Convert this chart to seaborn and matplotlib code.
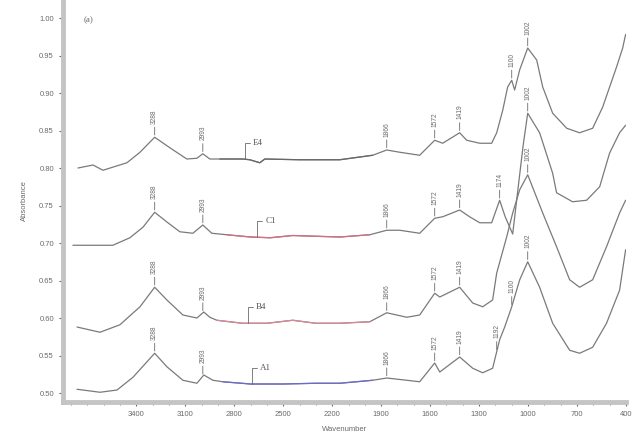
import numpy as np
import pandas as pd
import matplotlib
matplotlib.use("Agg")
import matplotlib.pyplot as plt
from matplotlib.ticker import MultipleLocator
import seaborn as sns

# FTIR spectra, stacked (wavenumber in cm-1, absorbance)
samples = ["E4", "C1", "B4", "A1"]

wn_E4 = [3758, 3666, 3605, 3458, 3378, 3288, 3195, 3091, 3029, 2993, 2950, 2889,
         2748, 2705, 2644, 2613, 2400, 2154, 1952, 1866, 1786, 1664, 1572, 1523,
         1419, 1376, 1296, 1223, 1192, 1155, 1125, 1100, 1082, 1051, 1002, 947,
         910, 849, 763, 684, 604, 543, 500, 457, 420, 402]
ab_E4 = [0.800, 0.804, 0.797, 0.807, 0.821, 0.841, 0.827, 0.812, 0.813, 0.819, 0.812, 0.812,
         0.812, 0.811, 0.807, 0.812, 0.811, 0.811, 0.817, 0.824, 0.821, 0.817, 0.837, 0.833,
         0.847, 0.837, 0.833, 0.833, 0.847, 0.877, 0.908, 0.917, 0.904, 0.931, 0.960, 0.944,
         0.908, 0.873, 0.853, 0.847, 0.853, 0.881, 0.908, 0.935, 0.960, 0.978]

wn_C1 = [3789, 3544, 3440, 3360, 3288, 3213, 3134, 3054, 2993, 2938, 2846, 2700,
         2580, 2442, 2300, 2154, 1970, 1866, 1786, 1664, 1572, 1523, 1419, 1358,
         1296, 1223, 1174, 1140, 1094, 1060, 1030, 1002, 929, 849, 825, 727,
         641, 561, 500, 439, 402]
ab_C1 = [0.697, 0.697, 0.707, 0.721, 0.741, 0.728, 0.715, 0.713, 0.724, 0.713, 0.711, 0.708,
         0.707, 0.710, 0.709, 0.708, 0.711, 0.717, 0.717, 0.713, 0.733, 0.735, 0.744, 0.735,
         0.727, 0.727, 0.757, 0.735, 0.712, 0.775, 0.830, 0.873, 0.847, 0.793, 0.767, 0.755,
         0.757, 0.775, 0.820, 0.847, 0.857]

wn_B4 = [3764, 3623, 3501, 3378, 3288, 3213, 3115, 3029, 2987, 2950, 2907, 2750,
         2600, 2442, 2300, 2154, 1970, 1866, 1743, 1664, 1572, 1541, 1419, 1339,
         1278, 1217, 1192, 1131, 1094, 1051, 1002, 910, 825, 745, 684, 604,
         519, 439, 402]
ab_B4 = [0.588, 0.581, 0.591, 0.615, 0.641, 0.624, 0.604, 0.600, 0.608, 0.601, 0.597, 0.593,
         0.593, 0.597, 0.593, 0.593, 0.595, 0.607, 0.601, 0.604, 0.633, 0.628, 0.641, 0.620,
         0.615, 0.624, 0.660, 0.708, 0.740, 0.771, 0.791, 0.740, 0.695, 0.651, 0.641, 0.651,
         0.695, 0.740, 0.757]

wn_A1 = [3764, 3623, 3519, 3421, 3288, 3213, 3115, 3029, 2987, 2931, 2870, 2700,
         2500, 2300, 2154, 1952, 1866, 1743, 1664, 1572, 1541, 1419, 1339, 1278,
         1217, 1174, 1143, 1100, 1051, 1002, 929, 849, 745, 684, 604, 519,
         439, 402]
ab_A1 = [0.505, 0.501, 0.504, 0.521, 0.553, 0.535, 0.517, 0.513, 0.524, 0.517, 0.515, 0.512,
         0.512, 0.513, 0.513, 0.517, 0.520, 0.517, 0.515, 0.540, 0.528, 0.548, 0.533, 0.527,
         0.533, 0.571, 0.588, 0.615, 0.651, 0.675, 0.641, 0.593, 0.557, 0.553, 0.561, 0.593,
         0.637, 0.691]

# labelled band positions for each spectrum
peaks_E4 = [3288, 2993, 1866, 1572, 1419, 1100, 1002]
peaks_C1 = [3288, 2993, 1866, 1572, 1419, 1174, 1002]
peaks_B4 = [3288, 2993, 1866, 1572, 1419, 1002]
peaks_A1 = [3288, 2993, 1866, 1572, 1419, 1192, 1100, 1002]

x_ticks = [3400, 3100, 2800, 2500, 2200, 1900, 1600, 1300, 1000, 700, 400]
y_ticks = [0.50, 0.55, 0.60, 0.65, 0.70, 0.75, 0.80, 0.85, 0.90, 0.95, 1.00]

spectra = {
    "E4": (wn_E4, ab_E4, peaks_E4),
    "C1": (wn_C1, ab_C1, peaks_C1),
    "B4": (wn_B4, ab_B4, peaks_B4),
    "A1": (wn_A1, ab_A1, peaks_A1),
}

frames = []
for name, (wn, ab, _) in spectra.items():
    frames.append(pd.DataFrame({"wavenumber": wn, "absorbance": ab, "sample": name}))
df = pd.concat(frames, ignore_index=True)

# styling
sns.set_style("ticks")
plt.rcParams["font.family"] = ["Liberation Sans", "DejaVu Sans"]

line_gray = "#7a7a7a"
accent = {"E4": "#686868", "C1": "#d4707e", "B4": "#d88a9a", "A1": "#6a6ad0"}
text_gray = "#6a6a6a"
spine_gray = "#c4c4c4"

fig = plt.figure(figsize=(6.38, 4.34), dpi=100)
ax = fig.add_axes([0.0987, 0.0737, 0.8824, 0.9263])

sns.lineplot(data=df, x="wavenumber", y="absorbance", hue="sample",
             palette={s: line_gray for s in samples}, sort=False, estimator=None,
             legend=False, lw=0.9, ax=ax)

# coloured flat mid-range section of each trace
mid = df[(df["wavenumber"] <= 2910) & (df["wavenumber"] >= 1950)]
sns.lineplot(data=mid, x="wavenumber", y="absorbance", hue="sample",
             palette=accent, sort=False, estimator=None, legend=False, lw=0.9, ax=ax)

ax.set_xlim(3850, 400)
ax.set_ylim(0.488, 1.024)
ax.set_xticks(x_ticks)
ax.set_xticklabels([str(t) for t in x_ticks])
ax.xaxis.set_minor_locator(MultipleLocator(100))
ax.set_yticks(y_ticks)
ax.set_yticklabels([f"{t:.2f}" for t in y_ticks])
ax.tick_params(axis="both", which="major", labelsize=5.5, colors=text_gray,
               length=3, width=0.8, direction="out")
ax.tick_params(axis="x", which="minor", length=2, width=0.6, colors=text_gray)
for lab in ax.get_xticklabels() + ax.get_yticklabels():
    lab.set_color(text_gray)

for side in ["top", "right"]:
    ax.spines[side].set_visible(False)
for side in ["left", "bottom"]:
    ax.spines[side].set_color(spine_gray)
    ax.spines[side].set_linewidth(3.5)

ax.set_xlabel("Wavenumber", fontsize=5.5, color=text_gray, labelpad=6)
ax.set_ylabel("Absorbance", fontsize=5.5, color=text_gray, labelpad=8)

# band labels above each peak
for name, (wn, ab, peaks) in spectra.items():
    xs = np.asarray(wn)[::-1]
    ys = np.asarray(ab)[::-1]
    for p in peaks:
        yp = np.interp(p, xs, ys)
        ax.annotate(str(p), xy=(p, yp + 0.003), xytext=(0, 8), textcoords="offset points",
                    rotation=90, ha="center", va="bottom", fontsize=4.8, color=text_gray,
                    arrowprops=dict(arrowstyle="-", color=text_gray, lw=0.6,
                                    shrinkA=0, shrinkB=0))

# sample name callouts on the flat region
name_at = {"E4": 2735, "C1": 2662, "B4": 2717, "A1": 2693}
for name, (wn, ab, _) in spectra.items():
    xs = np.asarray(wn)[::-1]
    ys = np.asarray(ab)[::-1]
    x0 = name_at[name]
    y0 = np.interp(x0, xs, ys)
    ax.annotate(name, xy=(x0, y0), xytext=(6, 9), textcoords="offset points",
                ha="left", va="bottom", fontsize=6.5, color="#555555",
                fontfamily=["Liberation Serif", "DejaVu Serif"],
                arrowprops=dict(arrowstyle="-", color=text_gray, lw=0.6,
                                shrinkA=0, shrinkB=0, connectionstyle="angle,angleA=0,angleB=90,rad=0"))

ax.text(0.036, 0.945, "(a)", transform=ax.transAxes, fontsize=6.5, color="#666666",
        fontfamily=["Liberation Serif", "DejaVu Serif"])

fig.savefig("out.png", dpi=100)
